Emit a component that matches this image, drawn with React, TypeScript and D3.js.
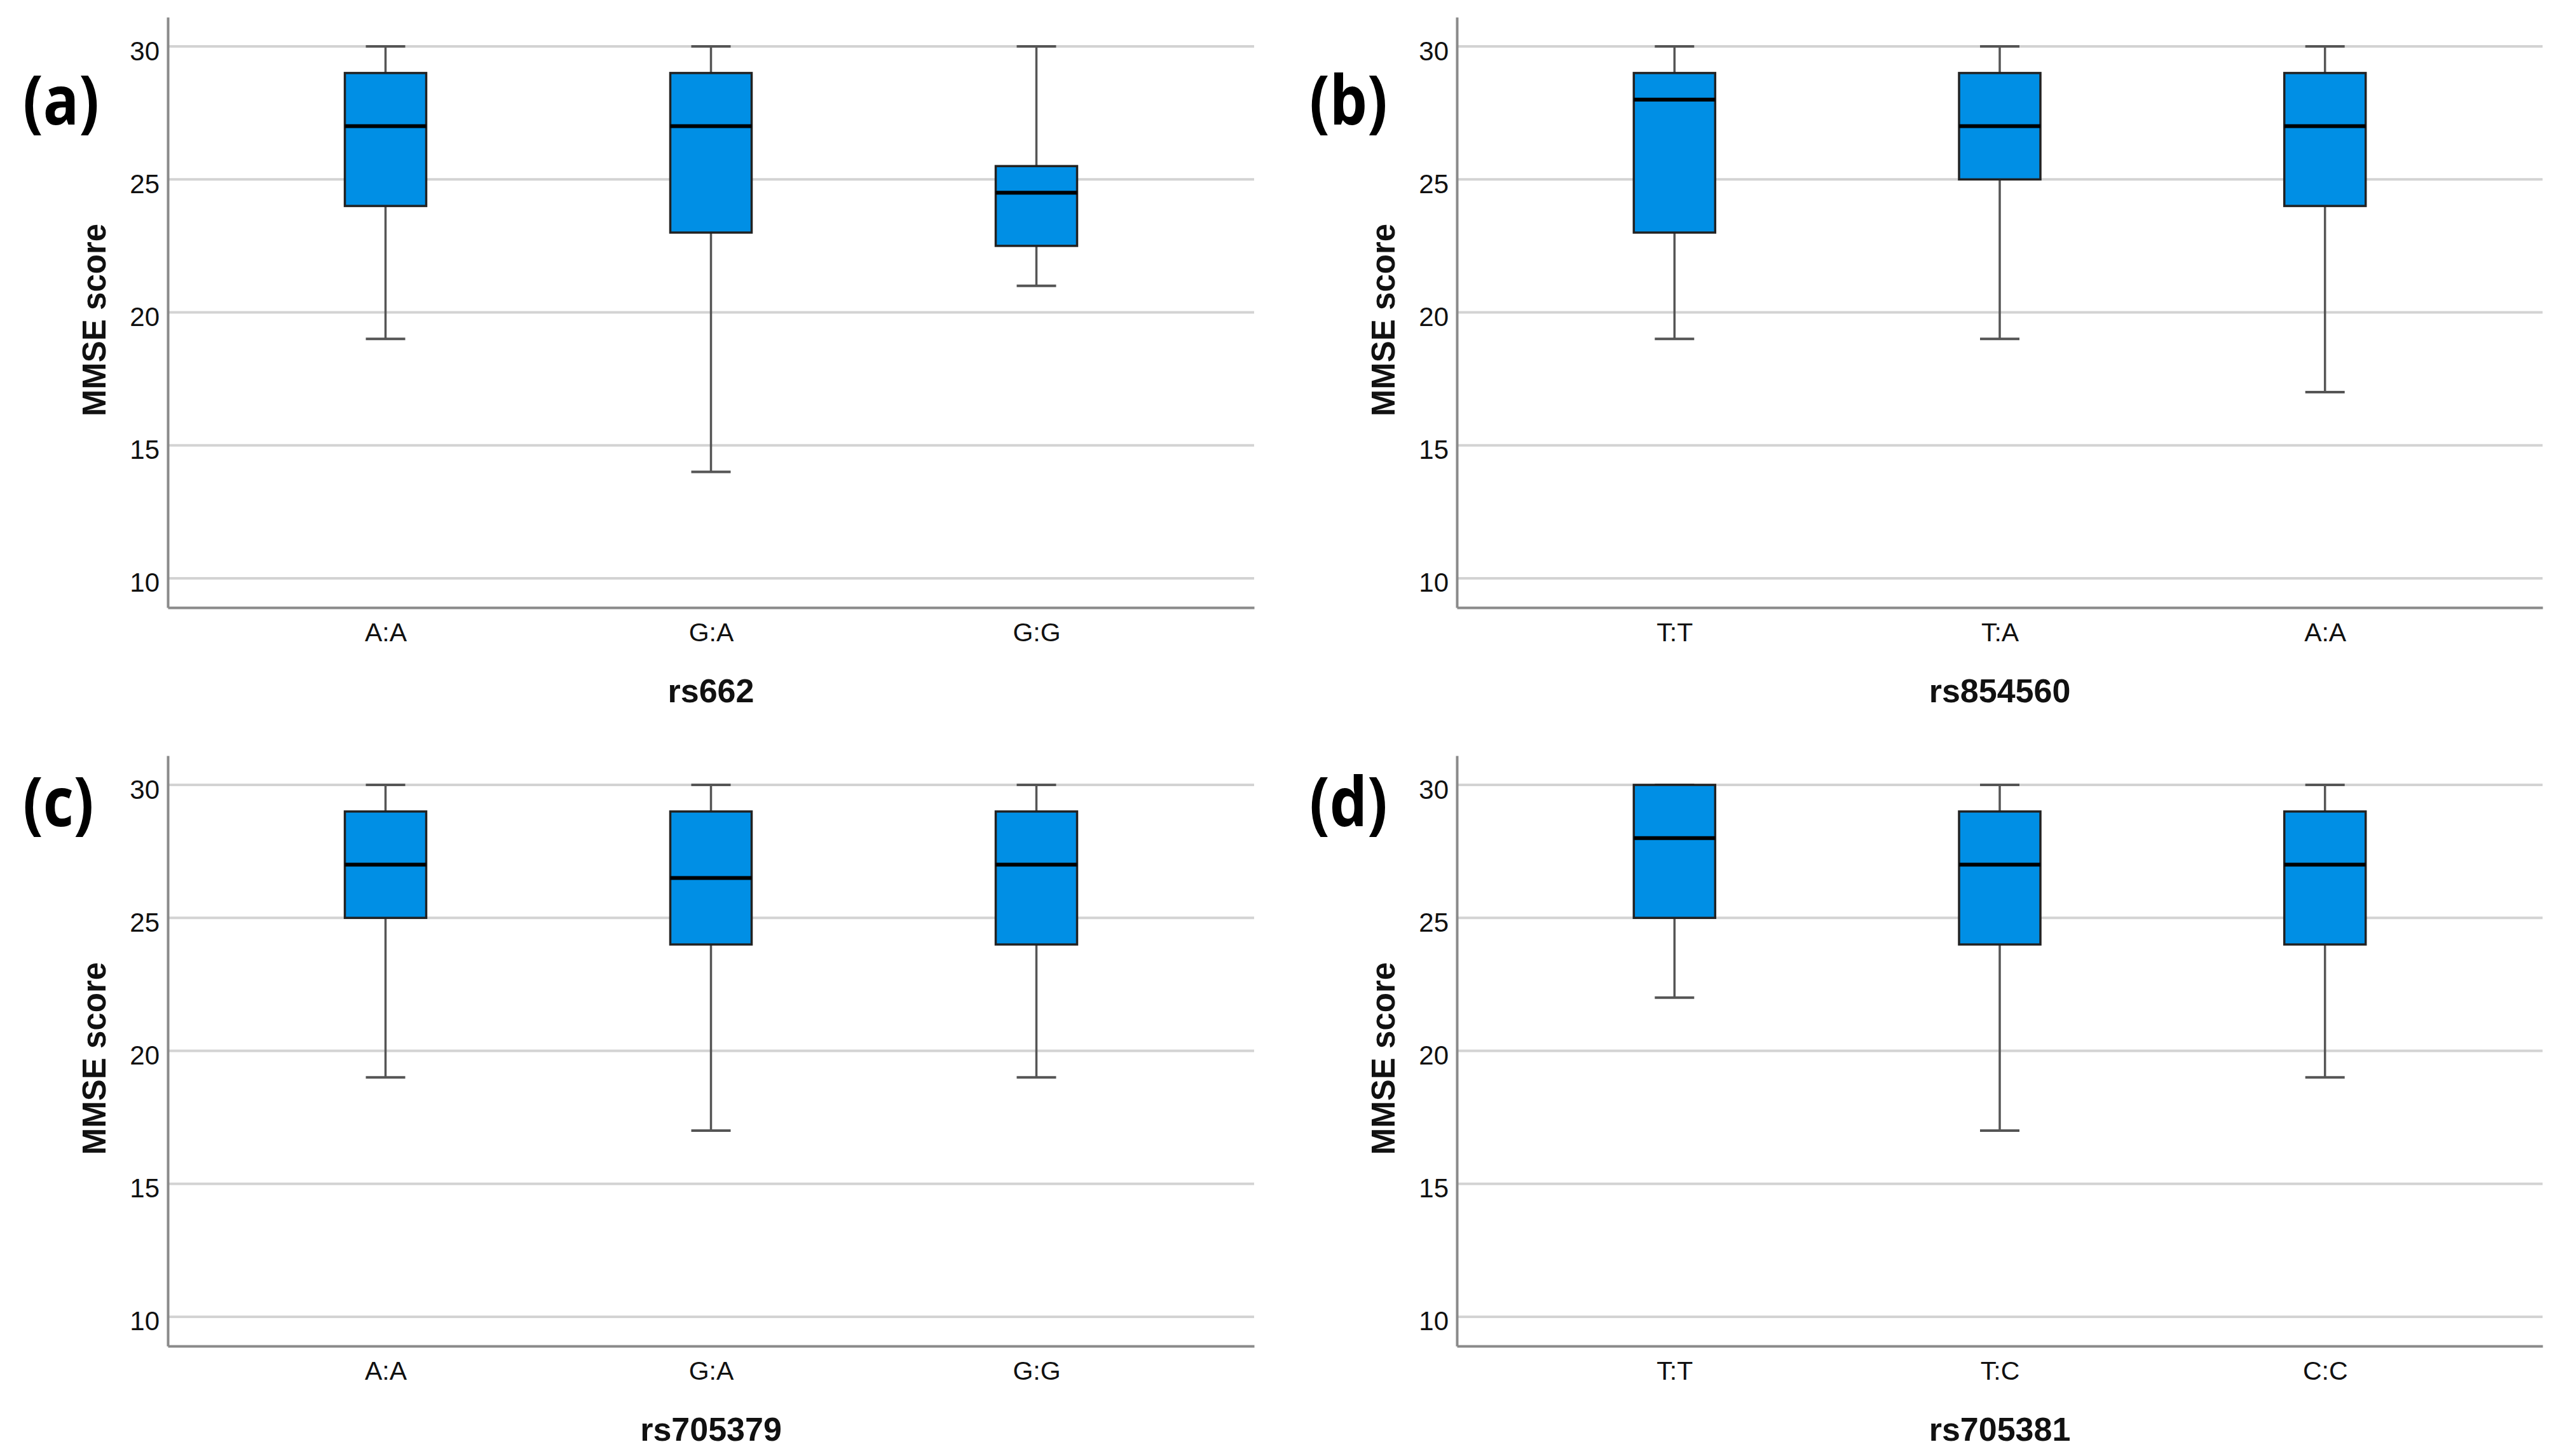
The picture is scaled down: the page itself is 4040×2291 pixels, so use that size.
import React, { useEffect, useRef } from 'react';
import * as d3 from 'd3';

// box stats per genotype: [lower whisker, Q1, median, Q3, upper whisker]
const rs662Stats = [
  [19, 24, 27, 29, 30],
  [14, 23, 27, 29, 30],
  [21, 22.5, 24.5, 25.5, 30]
];
const rs854560Stats = [
  [19, 23, 28, 29, 30],
  [19, 25, 27, 29, 30],
  [17, 24, 27, 29, 30]
];
const rs705379Stats = [
  [19, 25, 27, 29, 30],
  [17, 24, 26.5, 29, 30],
  [19, 24, 27, 29, 30]
];
const rs705381Stats = [
  [22, 25, 28, 30, 30],
  [17, 24, 27, 29, 30],
  [19, 24, 27, 29, 30]
];

const panelLabels = ['(a)', '(b)', '(c)', '(d)'];
const snpNames = ['rs662', 'rs854560', 'rs705379', 'rs705381'];
const genotypes = [
  ['A:A', 'G:A', 'G:G'],
  ['T:T', 'T:A', 'A:A'],
  ['A:A', 'G:A', 'G:G'],
  ['T:T', 'T:C', 'C:C']
];
const allStats = [rs662Stats, rs854560Stats, rs705379Stats, rs705381Stats];
const yTicks = [10, 15, 20, 25, 30];
const yTitle = 'MMSE score';

const W = 4040;
const H = 2291;
const colX = [
  [264, 1973],
  [2292, 4000]
];
const rowDy = [0, 1162];
const labelX = [36, 2060];
const labelBaseline = [196, 1300];

const BOX_FILL = '#008fe5';
const FONT = '"Liberation Sans", Arial, sans-serif';

const BoxPanels = () => {
  const rootRef = useRef<SVGSVGElement>(null);

  useEffect(() => {
    const svg = d3.select(rootRef.current).attr('width', W).attr('height', H);
    svg.selectAll('*').remove();

    svg.append('rect').attr('width', W).attr('height', H).attr('fill', 'white');

    allStats.forEach((stats, i) => {
      const col = i % 2;
      const row = Math.floor(i / 2);
      const [x0, x1] = colX[col];
      const dy = rowDy[row];

      const y = d3.scaleLinear().domain([8.9, 31.1]).range([956 + dy, 27 + dy]);
      const x = d3.scalePoint<string>().domain(genotypes[i]).range([x0, x1]).padding(0.669);

      const g = svg.append('g');

      // gridlines
      g.selectAll('.grid')
        .data(yTicks)
        .enter()
        .append('line')
        .attr('x1', x0)
        .attr('x2', x1)
        .attr('y1', (d) => y(d))
        .attr('y2', (d) => y(d))
        .attr('stroke', '#d3d3d3')
        .attr('stroke-width', 4);

      // y axis
      const yAxis = g
        .append('g')
        .attr('transform', `translate(${x0},0)`)
        .call(d3.axisLeft(y).tickValues(yTicks).tickSize(0).tickSizeOuter(0).tickPadding(13));
      yAxis.select('.domain').attr('stroke', '#8a8a8a').attr('stroke-width', 4);
      yAxis
        .selectAll('text')
        .attr('font-family', FONT)
        .attr('font-size', 42)
        .attr('fill', '#111')
        .attr('dy', '0.5em');

      // x axis
      const xAxis = g
        .append('g')
        .attr('transform', `translate(0,${y(8.9)})`)
        .call(d3.axisBottom(x).tickSize(0).tickSizeOuter(0).tickPadding(24));
      xAxis.select('.domain').attr('stroke', '#8a8a8a').attr('stroke-width', 4);
      xAxis
        .selectAll('text')
        .attr('font-family', FONT)
        .attr('font-size', 41)
        .attr('fill', '#111');

      // axis titles
      g.append('text')
        .attr('transform', `translate(${x0 - 98},${(y(8.9) + y(31.1)) / 2 + 12}) rotate(-90)`)
        .attr('text-anchor', 'middle')
        .attr('font-family', FONT)
        .attr('font-weight', 'bold')
        .attr('font-size', 51)
        .attr('fill', '#111')
        .text(yTitle);

      g.append('text')
        .attr('x', (x0 + x1) / 2)
        .attr('y', 1105 + dy)
        .attr('text-anchor', 'middle')
        .attr('font-family', FONT)
        .attr('font-weight', 'bold')
        .attr('font-size', 52)
        .attr('fill', '#111')
        .text(snpNames[i]);

      // panel label (condensed a little, the original is a narrow face)
      g.append('text')
        .attr('transform', `translate(${labelX[col]},${labelBaseline[row]}) scale(0.9,1.04)`)
        .attr('font-family', '"Open Sans", sans-serif')
        .attr('font-weight', 'bold')
        .attr('font-size', 104)
        .attr('fill', '#000')
        .text(panelLabels[i]);

      const boxW = 128;
      const capW = 62;
      const boxes = g
        .selectAll('.box')
        .data(stats.map((s, k) => ({ s, name: genotypes[i][k] })))
        .enter()
        .append('g');

      // whiskers
      boxes
        .append('line')
        .attr('x1', (d) => x(d.name) as number)
        .attr('x2', (d) => x(d.name) as number)
        .attr('y1', (d) => y(d.s[0]))
        .attr('y2', (d) => y(d.s[4]))
        .attr('stroke', '#555')
        .attr('stroke-width', 3.5);
      [0, 4].forEach((k) => {
        boxes
          .append('line')
          .attr('x1', (d) => (x(d.name) as number) - capW / 2)
          .attr('x2', (d) => (x(d.name) as number) + capW / 2)
          .attr('y1', (d) => y(d.s[k]))
          .attr('y2', (d) => y(d.s[k]))
          .attr('stroke', '#555')
          .attr('stroke-width', 4);
      });

      boxes
        .append('rect')
        .attr('x', (d) => (x(d.name) as number) - boxW / 2)
        .attr('width', boxW)
        .attr('y', (d) => y(d.s[3]))
        .attr('height', (d) => y(d.s[1]) - y(d.s[3]))
        .attr('fill', BOX_FILL)
        .attr('stroke', '#222')
        .attr('stroke-width', 3.5);

      boxes
        .append('line')
        .attr('x1', (d) => (x(d.name) as number) - boxW / 2)
        .attr('x2', (d) => (x(d.name) as number) + boxW / 2)
        .attr('y1', (d) => y(d.s[2]))
        .attr('y2', (d) => y(d.s[2]))
        .attr('stroke', '#000')
        .attr('stroke-width', 6);
    });
  }, []);

  return <svg ref={rootRef} style={{ position: 'absolute', left: 0, top: 0 }}></svg>;
};

export default function App() {
  return <BoxPanels />;
}
